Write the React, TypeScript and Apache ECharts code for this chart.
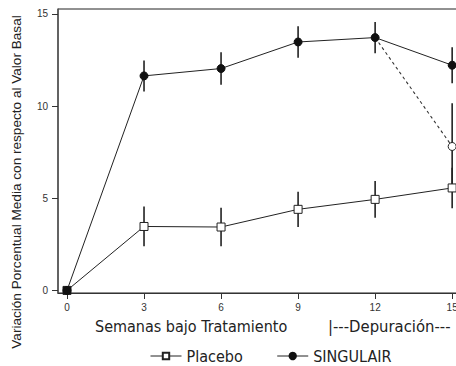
import React, { useEffect, useRef } from "react";
import * as echarts from "echarts";

const weeks = [0, 3, 6, 9, 12, 15];
const placebo = [0, 3.47, 3.44, 4.4, 4.94, 5.56];
const placeboErr = [0, 1.08, 1.05, 0.96, 1.0, 1.1];
const singulair = [0, 11.64, 12.04, 13.48, 13.72, 12.22];
const singulairErr = [0, 0.84, 0.88, 0.85, 0.85, 0.98];
const washoutWeeks = [12, 15];
const washout = [13.72, 7.81];
const washoutErr = [0, 2.35];
const yTicks = [0, 5, 10, 15];

const FONT = "'Liberation Sans Narrow', 'DejaVu Sans Condensed', 'Liberation Sans', sans-serif";

export default function App() {
  const ref = useRef<HTMLDivElement>(null);
  useEffect(() => {
    if (!ref.current) return;
    const chart = echarts.init(ref.current, null, { renderer: "svg" });

    const errData = (xs: number[], ys: number[], es: number[]) =>
      xs.map((x, i) => [x, ys[i] - es[i], ys[i] + es[i]]).filter((d) => d[2] - d[1] > 0);

    const errSeries = (data: number[][], z: number) => ({
      type: "custom",
      z,
      silent: true,
      data,
      encode: { x: 0, y: [1, 2] },
      renderItem: (params: any, api: any) => {
        const x = api.value(0);
        const p1 = api.coord([x, api.value(1)]);
        const p2 = api.coord([x, api.value(2)]);
        return {
          type: "line",
          shape: { x1: p1[0], y1: p1[1], x2: p2[0], y2: p2[1] },
          style: { stroke: "#222", lineWidth: 1.6 },
        };
      },
    });

    chart.setOption({
      animation: false,
      backgroundColor: "#fff",
      grid: {
        left: 58,
        top: 9,
        right: -9,
        bottom: 73,
        containLabel: false,
        outerBoundsMode: "none",
        show: true,
        borderColor: "#222",
        borderWidth: 1,
      },
      xAxis: {
        type: "value",
        min: -0.35,
        max: 15.5,
        interval: 3,
        splitLine: { show: false },
        axisLine: { show: true, onZero: false, lineStyle: { color: "#333", width: 1.2 } },
        axisLabel: {
          margin: 9,
          color: "#333",
          fontSize: 10,
          fontFamily: "'Liberation Sans', sans-serif",
          customValues: weeks,
          formatter: (v: number) => String(v),
        },
        axisTick: { show: true, length: 6, customValues: weeks, lineStyle: { color: "#333" } },
      },
      yAxis: {
        type: "value",
        min: -0.14,
        max: 15.27,
        splitLine: { show: false },
        axisLine: { show: true, onZero: false, lineStyle: { color: "#555", width: 1.5 } },
        axisLabel: {
          margin: 10,
          color: "#333",
          fontSize: 10,
          fontFamily: "'Liberation Sans', sans-serif",
          customValues: yTicks,
        },
        axisTick: { show: true, length: 6, customValues: yTicks, lineStyle: { color: "#333" } },
      },
      legend: {
        data: ["Placebo", "SINGULAIR"],
        left: 145,
        top: 343,
        itemWidth: 31,
        itemHeight: 8,
        itemGap: 34,
        lineStyle: { width: 1 },
        textStyle: { fontSize: 16, color: "#222", fontFamily: FONT },
      },
      graphic: [
        {
          type: "text",
          left: 95,
          top: 318,
          style: { text: "Semanas bajo Tratamiento", fontSize: 16, fill: "#222", fontFamily: FONT },
        },
        {
          type: "text",
          left: 328,
          top: 318,
          style: { text: "|---Depuración---", fontSize: 16.5, fill: "#222", fontFamily: FONT },
        },
        {
          type: "text",
          x: 16,
          y: 182,
          rotation: Math.PI / 2,
          style: {
            text: "Variación Porcentual Media con respecto al Valor Basal",
            fontSize: 13.6,
            fill: "#222",
            fontFamily: "'Liberation Sans', sans-serif",
            align: "center",
            verticalAlign: "middle",
          },
        },
      ],
      series: [
        errSeries(errData(weeks, placebo, placeboErr), 1),
        errSeries(errData(weeks, singulair, singulairErr), 1),
        errSeries(errData(washoutWeeks, washout, washoutErr), 1),
        {
          name: "washout",
          type: "line",
          z: 2,
          data: washoutWeeks.map((x, i) => ({
            value: [x, washout[i]],
            symbol: i === 0 ? "none" : "circle",
          })),
          symbolSize: 8,
          lineStyle: { color: "#333", width: 1.1, type: [3, 3] },
          itemStyle: { color: "#fff", borderColor: "#222", borderWidth: 1 },
        },
        {
          name: "Placebo",
          type: "line",
          z: 3,
          data: weeks.map((x, i) => ({
            value: [x, placebo[i]],
            itemStyle: i === 0 ? { color: "#111" } : undefined,
          })),
          symbol: "rect",
          symbolSize: 8,
          lineStyle: { color: "#222", width: 1 },
          itemStyle: { color: "#fff", borderColor: "#222", borderWidth: 1 },
        },
        {
          name: "SINGULAIR",
          type: "line",
          z: 4,
          data: weeks.map((x, i) => [x, singulair[i]]),
          symbol: "circle",
          symbolSize: 8,
          lineStyle: { color: "#222", width: 1 },
          itemStyle: { color: "#111", borderColor: "#111", borderWidth: 1 },
        },
      ],
    });
    return () => chart.dispose();
  }, []);
  return (
    <div
      ref={ref}
      style={{ position: "fixed", left: 0, top: 0, width: 456, height: 366 }}
    />
  );
}
